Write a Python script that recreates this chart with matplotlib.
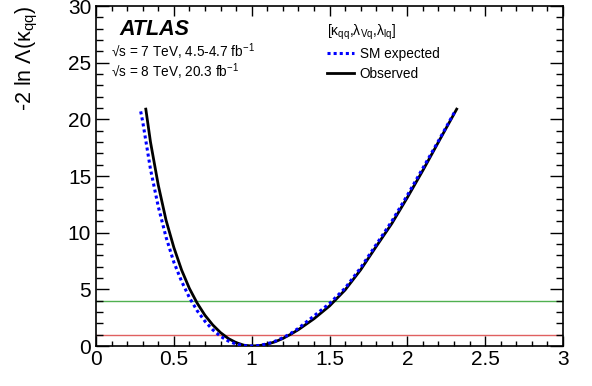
import numpy as np
import matplotlib
matplotlib.use('Agg')
import matplotlib.pyplot as plt
from matplotlib.ticker import MultipleLocator

plt.rcParams['font.family'] = ['Liberation Sans', 'DejaVu Sans']
plt.rcParams['mathtext.fontset'] = 'custom'
plt.rcParams['mathtext.rm'] = 'Liberation Sans'
plt.rcParams['mathtext.it'] = 'Liberation Sans:italic'

# observed scan of -2 ln Lambda vs kappa_qq
kappa_obs = [0.32, 0.35, 0.40, 0.45, 0.50, 0.55, 0.60, 0.65, 0.70, 0.75, 0.80, 0.85,
             0.90, 0.95, 1.00, 1.05, 1.10, 1.15, 1.20, 1.25, 1.30, 1.40, 1.50, 1.60,
             1.70, 1.80, 1.90, 2.00, 2.10, 2.20, 2.317]
nll_obs = [20.9, 18.0, 14.2, 11.1, 8.7, 6.7, 5.08, 3.78, 2.71, 1.86, 1.18, 0.66,
           0.30, 0.07, 0.0, 0.04, 0.16, 0.37, 0.66, 1.03, 1.44, 2.40, 3.53, 4.94,
           6.72, 8.78, 10.8, 13.1, 15.5, 18.0, 20.9]

# SM expected scan
kappa_exp = [0.287, 0.30, 0.35, 0.40, 0.45, 0.50, 0.55, 0.60, 0.65, 0.70, 0.75, 0.80,
             0.85, 0.90, 0.95, 1.00, 1.05, 1.10, 1.15, 1.20, 1.25, 1.30, 1.40, 1.50,
             1.60, 1.70, 1.80, 1.90, 2.00, 2.10, 2.20, 2.31]
nll_exp = [20.7, 19.8, 15.6, 12.3, 9.6, 7.4, 5.7, 4.27, 3.11, 2.18, 1.43, 0.85,
           0.44, 0.17, 0.04, 0.0, 0.05, 0.19, 0.42, 0.72, 1.1, 1.56, 2.65, 3.75,
           5.1, 6.9, 8.95, 11.0, 13.3, 15.7, 18.1, 20.8]

# 1 sigma and 2 sigma reference levels
sigma_levels = [1, 4]
sigma_colors = ['#e06060', '#50b050']

fig = plt.figure(figsize=(5.92, 3.86), dpi=100)
ax = fig.add_axes([96/592, 40/386, 467/592, 340/386])

for lvl, c in zip(sigma_levels, sigma_colors):
    ax.axhline(lvl, color=c, lw=1.0, zorder=1)

ax.plot(kappa_exp, nll_exp, color='#0000ff', lw=2.2, linestyle=(0, (1, 1)),
        label='SM expected', zorder=3)
ax.plot(kappa_obs, nll_obs, color='black', lw=2.0, label='Observed', zorder=2)

ax.set_xlim(0, 3)
ax.set_ylim(0, 30)
ax.xaxis.set_major_locator(MultipleLocator(0.5))
ax.xaxis.set_minor_locator(MultipleLocator(0.1))
ax.yaxis.set_major_locator(MultipleLocator(5))
ax.yaxis.set_minor_locator(MultipleLocator(1))
ax.set_xticks([0, 0.5, 1, 1.5, 2, 2.5, 3])
ax.set_xticklabels(['0', '0.5', '1', '1.5', '2', '2.5', '3'])
ax.tick_params(which='both', direction='in', top=True, right=True, labelsize=15, width=1)
ax.tick_params(axis='y', which='major', length=9.4)
ax.tick_params(axis='y', which='minor', length=5)
ax.tick_params(axis='x', which='major', length=7.2, pad=3)
ax.tick_params(axis='x', which='minor', length=3.6)
for s in ax.spines.values():
    s.set_linewidth(1.2)

ax.set_ylabel('-2 ln Λ(κ$_{\\mathrm{qq}}$)', fontsize=15.5, loc='top', labelpad=20)

ax.text(0.05, 0.915, 'ATLAS', transform=ax.transAxes, fontsize=15.5,
        fontweight='bold', fontstyle='italic')
ax.text(0.033, 0.85, '√s = 7 TeV, 4.5-4.7 fb$^{-1}$', transform=ax.transAxes, fontsize=9.8)
ax.text(0.033, 0.79, '√s = 8 TeV, 20.3 fb$^{-1}$', transform=ax.transAxes, fontsize=9.8)

leg = ax.legend(title='[κ$_{\\mathrm{qq}}$,λ$_{\\mathrm{Vq}}$,λ$_{\\mathrm{lq}}$]',
                loc='upper left', bbox_to_anchor=(0.474, 0.98), frameon=False,
                fontsize=9.8, title_fontsize=10, handlelength=2.0,
                handletextpad=0.4, labelspacing=0.4, borderpad=0.2)
leg._legend_box.align = 'left'

fig.savefig('out.png', dpi=100)
